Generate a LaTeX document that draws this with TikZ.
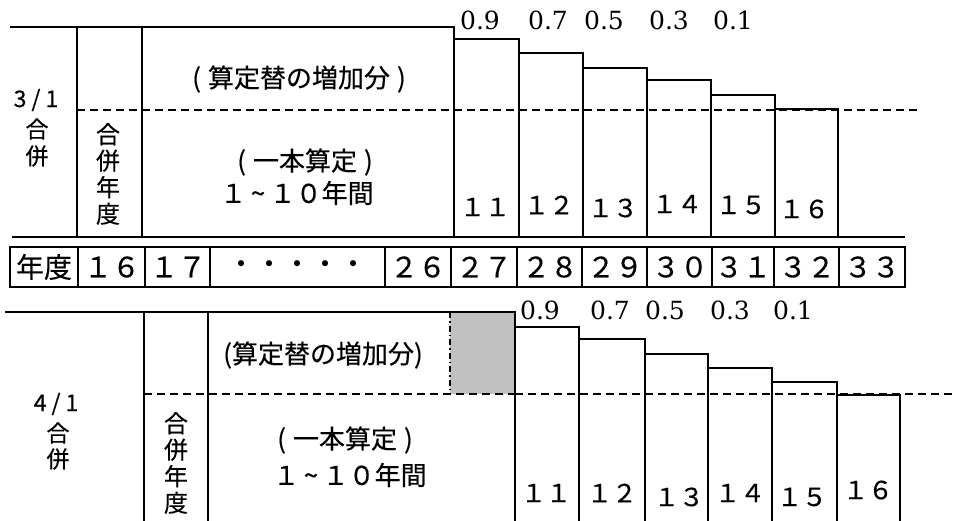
\documentclass[tikz,border=0pt]{standalone}
\usepackage{fontspec}
\newfontfamily\jpfont{Noto Sans CJK JP}[FakeBold=0.4]
\newfontfamily\ratefont{DejaVu Serif}
\definecolor{boxgray}{RGB}{192,192,192}
\newcommand\smtilde{\makebox[0.9em]{\textasciitilde}}
\tikzset{
  ln/.style={line width=1.6pt},
  dln/.style={line width=1.4pt, dash pattern=on 8pt off 5pt},
  ddln/.style={line width=1.4pt, dash pattern=on 6pt off 3pt on 1.5pt off 3pt},
  yr/.style={inner sep=0pt, font=\jpfont\fontsize{28}{30}\selectfont},
  big/.style={inner sep=0pt, font=\jpfont\fontsize{26}{28}\selectfont},
  num/.style={inner sep=0pt, font=\jpfont\fontsize{25}{27}\selectfont},
  lbl/.style={inner sep=0pt, font=\jpfont\fontsize{23}{25}\selectfont},
  vert/.style={inner sep=0pt, font=\jpfont\fontsize{24}{26.5}\selectfont, align=center},
  rate/.style={inner sep=0pt, font=\ratefont\fontsize{25}{27}\selectfont},
}
\begin{document}
\begin{tikzpicture}[x=1pt,y=-1pt]
\useasboundingbox (0,0) rectangle (957,521);
% ---------- top section ----------
\draw[ln] (10,27) -- (77,27);
\draw[ln] (77,27) -- (454,27) -- (454,237);
\draw[ln] (77,27) -- (77,237);
\draw[ln] (142,27) -- (142,237);
\draw[ln] (454,39) -- (519,39) -- (519,53) -- (583,53) -- (583,68) -- (647,68) -- (647,80) -- (711,80) -- (711,95) -- (775,95) -- (775,109) -- (838,109) -- (838,237);
\foreach \xx/\yy in {519/53,583/68,647/80,711/95,775/109} \draw[ln] (\xx,\yy) -- (\xx,237);
\draw[ln] (12,237) -- (905,237);
\draw[dln] (77,110) -- (920,110);
\node[lbl] (t31) at (36,100) {3\hspace{5pt}/\hspace{5pt}1};
\node[lbl] (tg1) at (37,129) {合};
\node[lbl] (tg2) at (37,156) {併};
\node[vert] (tgy) at (108,174) {合\\併\\年\\度};
\node[big] (tinc) at (299,79) {(\hspace{7pt}算定替の増加分\hspace{7pt})};
\node[big] (tone) at (305,162) {(\hspace{7pt}一本算定\hspace{7pt})};
\node[big] (tyrs) at (297,193) {１\smtilde１０年間};
\foreach \nm/\xx/\yy/\tx in {r9/480/20/0.9, r7/548/20/0.7, r5/604/20/0.5, r3/669/20/0.3, r1/733/20/0.1}
  \node[rate] (t\nm) at (\xx,\yy) {\tx};
\foreach \nm/\xx/\yy/\tx in {a/485/207/１１, b/549/205/１２, c/613/208/１３, d/677/204/１４, e/741/205/１５, f/804/209/１６}
  \node[num] (ts\nm) at (\xx,\yy) {\tx};
% ---------- year row ----------
\draw[ln] (10,247) rectangle (905,287);
\foreach \xx in {78,145,210,385,451,517,582,647,712,774,839} \draw[ln] (\xx,247) -- (\xx,287);
\foreach \nm/\xx/\tx in {h/44/年度, y16/112/１６, y17/178/１７, y26/418/２６, y27/484/２７, y28/550/２８, y29/615/２９, y30/680/３０, y31/743/３１, y32/807/３２, y33/872/３３}
  \node[yr] (\nm) at (\xx,267) {\tx};
\node[yr] (dots) at (297,267) {・・・・・};
% ---------- bottom section ----------
\fill[boxgray] (450,312) rectangle (515,394);
\draw[ln] (5,312) -- (515,312) -- (515,521);
\draw[ln] (144,312) -- (144,521);
\draw[ln] (208,312) -- (208,521);
\draw[ddln] (450,312) -- (450,394);
\draw[ln] (515,327) -- (579,327) -- (579,339) -- (645,339) -- (645,354) -- (708,354) -- (708,368) -- (772,368) -- (772,382) -- (837,382) -- (837,395) -- (900,395) -- (900,521);
\foreach \xx/\yy in {579/339,645/354,708/368,772/382,837/395} \draw[ln] (\xx,\yy) -- (\xx,521);
\draw[dln] (144,394) -- (515,394);
\draw[dln] (515,394) -- (957,394);
\node[lbl] (b41) at (56,404) {4\hspace{5pt}/\hspace{5pt}1};
\node[lbl] (bg1) at (58,433) {合};
\node[lbl] (bg2) at (58,459) {併};
\node[vert] (bgy) at (176,463) {合\\併\\年\\度};
\node[big] (binc) at (323,355) {(算定替の増加分)};
\node[big] (bone) at (345,440) {(\hspace{7pt}一本算定\hspace{7pt})};
\node[big] (byrs) at (350,475) {１\smtilde１０年間};
\foreach \nm/\xx/\yy/\tx in {r9/540/310/0.9, r7/610/310/0.7, r5/665/310/0.5, r3/730/310/0.3, r1/793/310/0.1}
  \node[rate] (b\nm) at (\xx,\yy) {\tx};
\foreach \nm/\xx/\yy/\tx in {a/546/493/１１, b/612/493/１２, c/679/497/１３, d/740/493/１４, e/802/497/１５, f/868/490/１６}
  \node[num] (bs\nm) at (\xx,\yy) {\tx};
\end{tikzpicture}
\end{document}
